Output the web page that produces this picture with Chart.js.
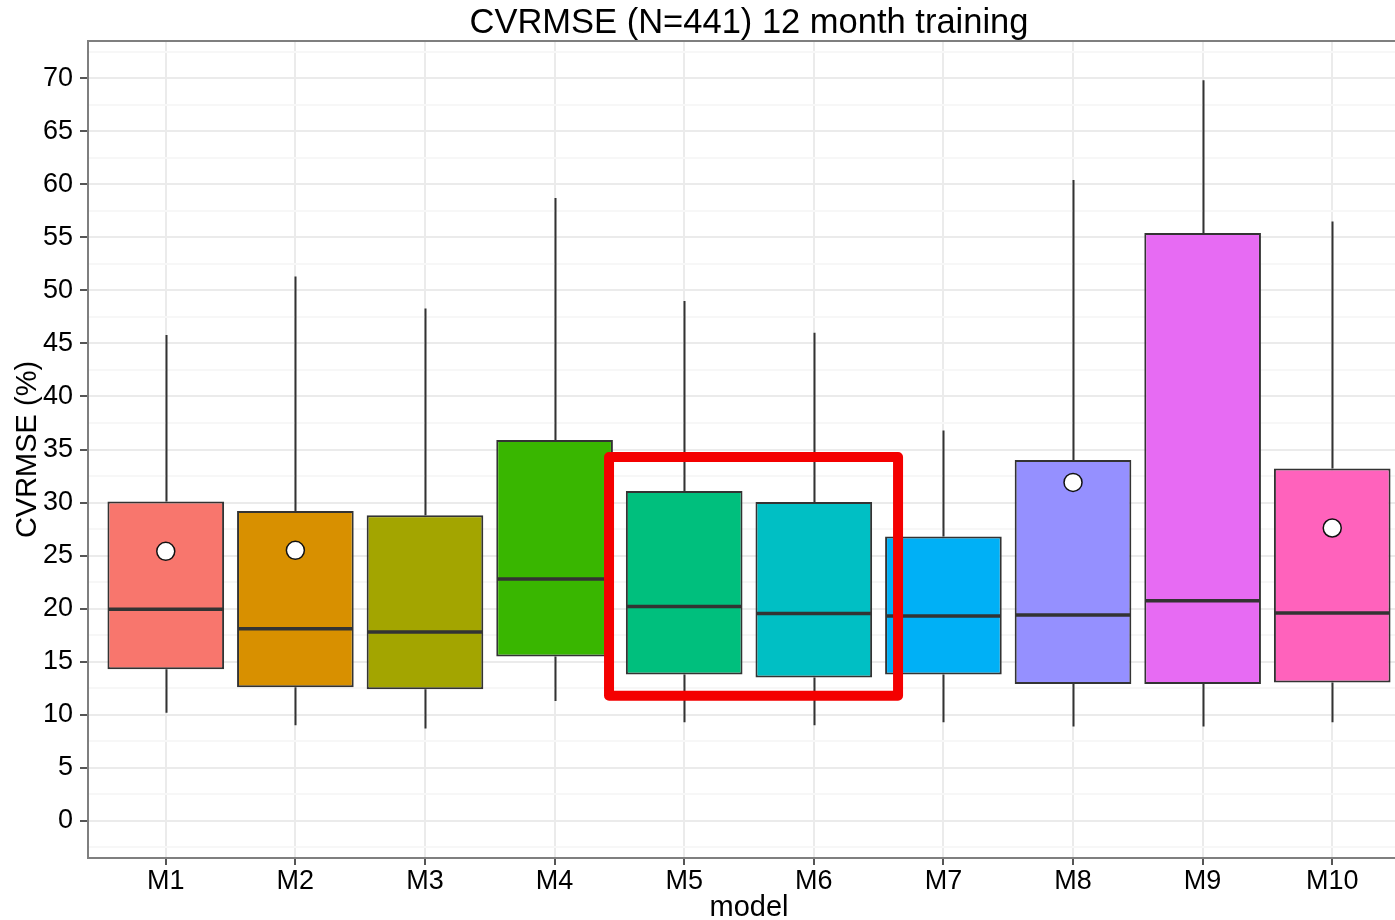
<!DOCTYPE html>
<html>
<head>
<meta charset="utf-8">
<title>CVRMSE boxplot</title>
<script src="https://cdn.jsdelivr.net/npm/chart.js"></script>
<style>
html,body{margin:0;padding:0;background:#fff;overflow:hidden;}
#wrap{width:1410px;height:920px;position:relative;}
</style>
</head>
<body>
<div id="wrap"><canvas id="chart"></canvas></div>
<script>
// values (CVRMSE, %)
const models=['M1','M2','M3','M4','M5','M6','M7','M8','M9','M10'];
const whiskerLow=[10.2,9.0,8.7,11.3,9.3,9.0,9.3,8.9,8.9,9.3];
const q1=[14.3,12.6,12.4,15.5,13.8,13.5,13.8,12.9,12.9,13.05];
const medians=[19.95,18.1,17.8,22.8,20.2,19.55,19.3,19.4,20.75,19.6];
const q3=[30.1,29.2,28.8,35.9,31.1,30.05,26.8,34.0,55.4,33.2];
const whiskerHigh=[45.8,51.3,48.3,58.7,49.0,46.0,36.8,60.4,69.8,56.5];
const means=[25.4,25.5,null,null,null,null,null,31.9,null,27.6];
const yTicks=[0,5,10,15,20,25,30,35,40,45,50,55,60,65,70];

const fills=['#F8766D','#D89000','#A3A500','#39B600','#00BF7D','#00BFC4','#00B0F6','#9590FF','#E76BF3','#FF62BC'];
// red highlight round M5 and M6, in data units
const highlight={from:3.42,to:5.65,low:11.8,high:34.3};

Chart.defaults.font.family="'Liberation Sans', Arial, Helvetica, sans-serif";
Chart.defaults.color='#000';

const boxParts={
 id:'boxParts',
 beforeDatasetsDraw(chart){
  const {ctx,scales:{x,y}}=chart;
  ctx.save();
  ctx.strokeStyle='#333';ctx.lineWidth=2;
  models.forEach((m,i)=>{
   const px=Math.round(x.getPixelForValue(i))+0.5;
   ctx.beginPath();
   ctx.moveTo(px,y.getPixelForValue(whiskerHigh[i]));
   ctx.lineTo(px,y.getPixelForValue(q3[i]));
   ctx.moveTo(px,y.getPixelForValue(q1[i]));
   ctx.lineTo(px,y.getPixelForValue(whiskerLow[i]));
   ctx.stroke();
  });
  ctx.restore();
 },
 afterDatasetDraw(chart,args){
  if(args.index!==0)return;
  const {ctx,scales:{y}}=chart;
  const meta=chart.getDatasetMeta(0);
  ctx.save();
  ctx.strokeStyle='#333';ctx.lineWidth=3.5;
  meta.data.forEach((bar,i)=>{
   const py=y.getPixelForValue(medians[i]);
   ctx.beginPath();
   ctx.moveTo(bar.x-bar.width/2+1,py);
   ctx.lineTo(bar.x+bar.width/2-1,py);
   ctx.stroke();
  });
  ctx.restore();
 },
 afterDraw(chart){
  const {ctx,chartArea:a,scales:{x,y}}=chart;
  ctx.save();
  ctx.strokeStyle='#7f7f7f';ctx.lineWidth=2;
  ctx.strokeRect(a.left,a.top,a.right-a.left,a.bottom-a.top);
  const l=x.getPixelForValue(highlight.from),r=x.getPixelForValue(highlight.to);
  const t=y.getPixelForValue(highlight.high),b=y.getPixelForValue(highlight.low);
  ctx.strokeStyle='#f40000';ctx.lineWidth=10;ctx.lineJoin='round';
  ctx.strokeRect(l,t,r-l,b-t);
  ctx.restore();
 }
};

new Chart(document.getElementById('chart'),{
 type:'bar',
 data:{
  datasets:[
   {
    label:'IQR',
    data:models.map((m,i)=>({x:i,y:[q1[i],q3[i]]})),
    backgroundColor:fills,
    borderColor:'#333',
    borderWidth:2,
    borderSkipped:false,
    barPercentage:0.9,
    categoryPercentage:1,
    order:2
   },
   {
    type:'scatter',
    label:'mean',
    data:means.map((v,i)=>({x:i,y:v})).filter(p=>p.y!==null),
    pointRadius:9,
    pointBackgroundColor:'#fff',
    pointBorderColor:'#111',
    pointBorderWidth:1.5,
    order:1
   }
  ]
 },
 options:{
  responsive:true,
  maintainAspectRatio:false,
  animation:false,
  layout:{padding:0,autoPadding:false},
  plugins:{
   legend:{display:false},
   tooltip:{enabled:false},
   title:{
    display:true,
    text:'CVRMSE (N=441) 12 month training',
    fullSize:false,
    color:'#000',
    font:{size:34.5,weight:'normal',lineHeight:1},
    padding:{top:6.5,bottom:0}
   }
  },
  scales:{
   x:{
    type:'linear',
    min:-0.6,max:9.6,
    offset:false,
    grid:{offset:false,color:'#ebebeb',lineWidth:2,tickColor:'#555',tickWidth:2,tickLength:7},
    border:{display:false},
    ticks:{stepSize:1,includeBounds:false,autoSkip:false,maxRotation:0,padding:3,
     font:{size:27,lineHeight:1},color:'#000',
     callback:v=>models[v]??''},
    title:{display:true,text:'model',font:{size:29,lineHeight:0.8},padding:{top:0,bottom:0},color:'#000'},
    afterFit:s=>{s.height=62;}
   },
   y:{
    min:-3.5,max:73.5,
    grid:{
     color:c=>yTicks.includes(c.tick.value)?'#ebebeb':'#f7f7f7',
     tickColor:c=>yTicks.includes(c.tick.value)?'#555':'rgba(0,0,0,0)',
     lineWidth:2,tickWidth:2,tickLength:8
    },
    border:{display:false},
    ticks:{stepSize:2.5,includeBounds:false,autoSkip:false,padding:7,
     font:{size:27,lineHeight:1},color:'#000',
     callback:v=>yTicks.includes(v)?String(v):''},
    title:{display:true,text:'CVRMSE (%)',font:{size:29,lineHeight:1},padding:{top:13,bottom:0},color:'#000'},
    afterFit:s=>{s.width=88;}
   }
  }
 },
 plugins:[boxParts]
});
</script>
</body>
</html>
